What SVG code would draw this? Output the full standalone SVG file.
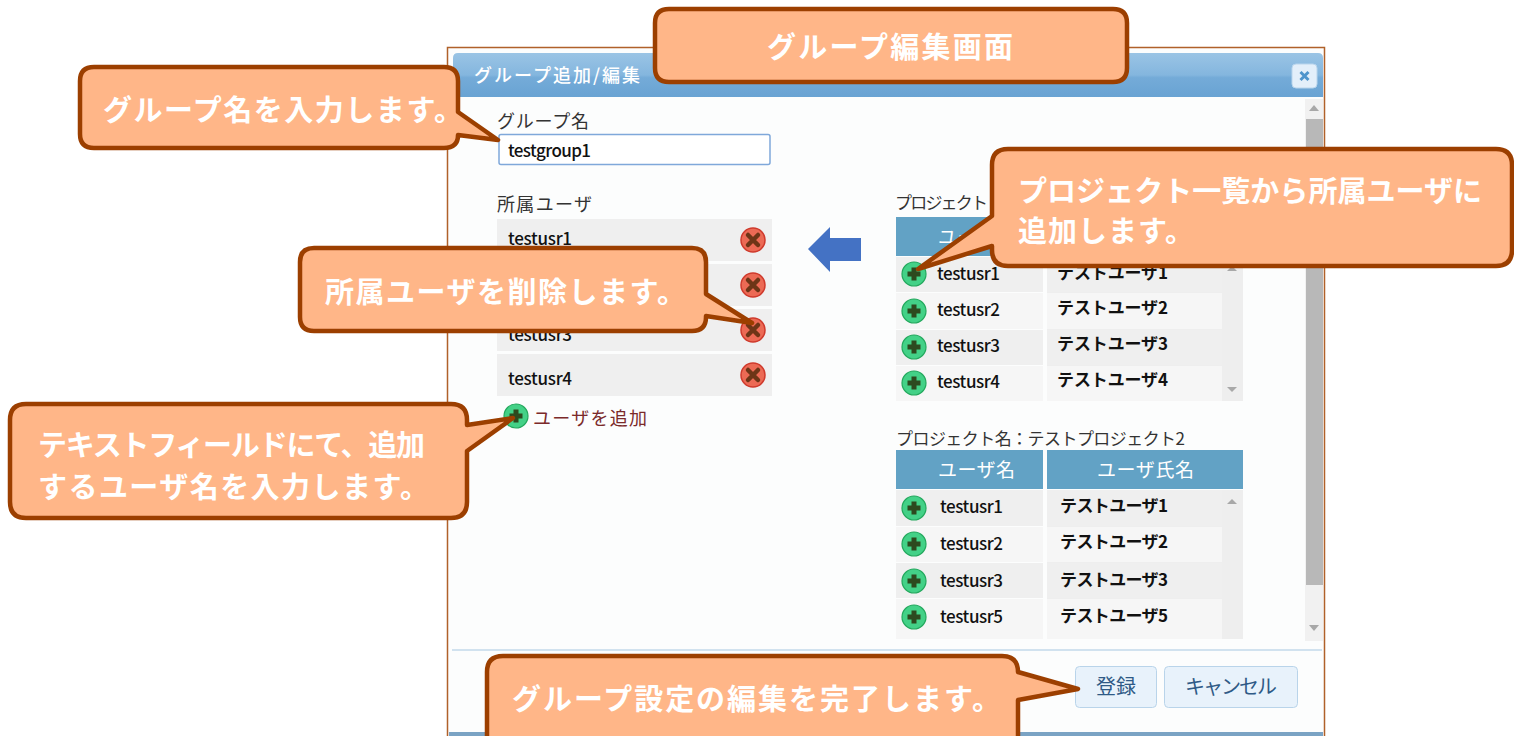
<svg xmlns="http://www.w3.org/2000/svg" xmlns:xlink="http://www.w3.org/1999/xlink" width="1514" height="736" viewBox="0 0 1514 736">
<style>
.ui{font-family:"Noto Sans CJK JP","Noto Sans",sans-serif;}
.lbl{font-size:18px;fill:#333;}
.cell{font-size:17px;fill:#111;font-weight:500;}
.cellb{font-size:17px;fill:#111;font-weight:700;}
.hdr{font-size:19px;fill:#fff;}
.btn{font-size:20px;fill:#2f5a86;}
.co{fill:#ffb688;stroke:#9c3f00;stroke-width:4.5;stroke-linejoin:round;}
.cot{font-family:"Noto Sans CJK JP","Noto Sans",sans-serif;font-size:29px;font-weight:700;fill:#fff;}
.row1{fill:#efefef;}
.row2{fill:#f6f6f6;}
.hd{fill:#62a2c5;}
.tri{fill:#a8a8a8;}
</style>
<defs>
<linearGradient id="tb" x1="0" y1="0" x2="0" y2="1">
<stop offset="0" stop-color="#9ac4e5"/>
<stop offset="0.5" stop-color="#84b6de"/>
<stop offset="0.56" stop-color="#74abd8"/>
<stop offset="1" stop-color="#69a3d3"/>
</linearGradient>
<g id="plus"><circle r="12" fill="#43d187" stroke="#23a85d" stroke-width="1.2"/><path d="M-6.5,0H6.5M0,-6.5V6.5" stroke="#2d4a1f" stroke-width="5"/></g>
<g id="del"><circle r="12" fill="#ec6a55" stroke="#cf3a2c" stroke-width="1.5"/><path d="M-5,-5L5,5M5,-5L-5,5" stroke="#6e3517" stroke-width="4.5" stroke-linecap="round"/></g>
</defs>
<rect width="1514" height="736" fill="#fff"/>

<g id="dialog">
<rect x="447.5" y="47.5" width="877" height="700" fill="#fcfdfd" stroke="#b0612a" stroke-width="1.5"/>
<path d="M458,53 H1318 Q1323,53 1323,58 V97 H453 V58 Q453,53 458,53 Z" fill="url(#tb)"/>
<text class="ui" x="474" y="82" font-size="18" font-weight="500" fill="#fff" textLength="166">グループ追加/編集</text>
<rect x="1292" y="64" width="25" height="24" rx="4" fill="#e3effa" stroke="#b9d5ec"/>
<path d="M1300.5,72L1308.5,80M1308.5,72L1300.5,80" stroke="#4f95cc" stroke-width="3"/>
<rect x="1305" y="99" width="18" height="542" fill="#f1f1f1"/>
<rect x="1306" y="119" width="17" height="466" fill="#b8b8b8"/>
<path class="tri" d="M1309,111 L1314,105 L1319,111 Z"/>
<path class="tri" d="M1309,625 L1314,631 L1319,625 Z"/>
<line x1="452" y1="650" x2="1322" y2="650" stroke="#c3d9ea" stroke-width="1.5"/>
<rect x="449" y="732" width="874" height="4" fill="#7aa3c4"/>
</g>

<g id="group-name">
<text class="ui lbl" x="497" y="128" textLength="92">グループ名</text>
<rect x="499" y="134.5" width="271" height="30" fill="#fff" stroke="#7fa8da" stroke-width="1.5" rx="2"/>
<text class="ui cell" x="508" y="157" textLength="83">testgroup1</text>
</g>

<g id="member-list">
<text class="ui lbl" x="497" y="211" textLength="95">所属ユーザ</text>
<rect class="row1" x="497" y="219" width="275" height="42"/>
<rect class="row1" x="497" y="264" width="275" height="42"/>
<rect class="row1" x="497" y="309" width="275" height="42"/>
<rect class="row1" x="497" y="354" width="275" height="42"/>
<text class="ui cell" x="508" y="245" textLength="64">testusr1</text>
<text class="ui cell" x="508" y="341" textLength="64">testusr3</text>
<text class="ui cell" x="508" y="385" textLength="64">testusr4</text>
<use xlink:href="#del" x="753" y="240"/>
<use xlink:href="#del" x="753" y="285"/>
<use xlink:href="#del" x="753" y="330"/>
<use xlink:href="#del" x="753" y="375"/>
<use xlink:href="#plus" x="516" y="416"/>
<text class="ui" x="533" y="425" font-size="18" fill="#7b2a2a" textLength="114">ユーザを追加</text>
</g>

<g id="project1">
<text class="ui" x="895" y="209" font-size="17" fill="#333" textLength="93">プロジェクト</text>
<rect class="hd" x="896" y="217" width="147" height="39"/>
<rect class="hd" x="1047" y="217" width="196" height="39"/>
<text class="ui hdr" x="938" y="244" textLength="77">ユーザ名</text>
<rect class="row1" x="896" y="257" width="147" height="35"/>
<rect class="row2" x="896" y="293" width="147" height="36"/>
<rect class="row1" x="896" y="330" width="147" height="35"/>
<rect class="row2" x="896" y="366" width="147" height="35"/>
<rect x="1047" y="257" width="196" height="144" fill="#eeeeee"/>
<rect class="row1" x="1047" y="257" width="175" height="35"/>
<rect class="row2" x="1047" y="293" width="175" height="36"/>
<rect class="row1" x="1047" y="330" width="175" height="35"/>
<rect class="row2" x="1047" y="366" width="175" height="35"/>
<path class="tri" d="M1227,271 L1232,266 L1237,271 Z"/>
<path class="tri" d="M1227,387 L1232,392 L1237,387 Z"/>
<use xlink:href="#plus" x="914" y="274"/>
<use xlink:href="#plus" x="914" y="311"/>
<use xlink:href="#plus" x="914" y="347"/>
<use xlink:href="#plus" x="914" y="383"/>
<text class="ui cell" x="937" y="280" textLength="63">testusr1</text>
<text class="ui cell" x="937" y="316" textLength="63">testusr2</text>
<text class="ui cell" x="937" y="352" textLength="63">testusr3</text>
<text class="ui cell" x="937" y="388" textLength="63">testusr4</text>
<text class="ui cellb" x="1057" y="279" textLength="111">テストユーザ1</text>
<text class="ui cellb" x="1057" y="314" textLength="111">テストユーザ2</text>
<text class="ui cellb" x="1057" y="350" textLength="111">テストユーザ3</text>
<text class="ui cellb" x="1057" y="386" textLength="111">テストユーザ4</text>
</g>

<g id="project2">
<text class="ui" x="896" y="445" font-size="17" fill="#333" textLength="289">プロジェクト名：テストプロジェクト2</text>
<rect class="hd" x="896" y="450" width="147" height="39"/>
<rect class="hd" x="1047" y="450" width="196" height="39"/>
<text class="ui hdr" x="938" y="477" textLength="77">ユーザ名</text>
<text class="ui hdr" x="1097" y="477" textLength="97">ユーザ氏名</text>
<rect class="row1" x="896" y="490" width="147" height="36"/>
<rect class="row2" x="896" y="527" width="147" height="35"/>
<rect class="row1" x="896" y="563" width="147" height="35"/>
<rect class="row2" x="896" y="599" width="147" height="40"/>
<rect x="1047" y="490" width="196" height="149" fill="#eeeeee"/>
<rect class="row1" x="1047" y="490" width="175" height="36"/>
<rect class="row2" x="1047" y="527" width="175" height="35"/>
<rect class="row1" x="1047" y="563" width="175" height="35"/>
<rect class="row2" x="1047" y="599" width="175" height="40"/>
<path class="tri" d="M1227,504 L1232,499 L1237,504 Z"/>
<use xlink:href="#plus" x="914" y="508"/>
<use xlink:href="#plus" x="914" y="544"/>
<use xlink:href="#plus" x="914" y="581"/>
<use xlink:href="#plus" x="914" y="617"/>
<text class="ui cell" x="940" y="513" textLength="63">testusr1</text>
<text class="ui cell" x="940" y="550" textLength="63">testusr2</text>
<text class="ui cell" x="940" y="587" textLength="63">testusr3</text>
<text class="ui cell" x="940" y="623" textLength="63">testusr5</text>
<text class="ui cellb" x="1060" y="512" textLength="108">テストユーザ1</text>
<text class="ui cellb" x="1060" y="548" textLength="108">テストユーザ2</text>
<text class="ui cellb" x="1060" y="586" textLength="108">テストユーザ3</text>
<text class="ui cellb" x="1060" y="622" textLength="108">テストユーザ5</text>
</g>

<g id="buttons">
<rect x="1075.5" y="666.5" width="81" height="41" rx="4" fill="#e8f2fb" stroke="#b9d4ea"/>
<text class="ui btn" x="1096" y="694">登録</text>
<rect x="1164.5" y="666.5" width="133" height="41" rx="4" fill="#e8f2fb" stroke="#b9d4ea"/>
<text class="ui btn" x="1185" y="694" font-size="19" textLength="92">キャンセル</text>
</g>

<g id="connectors">
<path d="M808,249 L830,227 L830,238 L861,238 L861,261 L830,261 L830,272 Z" fill="#4472c4"/>
</g>

<g id="callout-title">
<path class="co" d="M669,9 H1113 Q1127,9 1127,23 V68 Q1127,82 1113,82 H669 Q655,82 655,68 V23 Q655,9 669,9 Z"/>
<text class="cot" x="767" y="58" font-size="30" textLength="246">グループ編集画面</text>
</g>

<g id="callout-groupname">
<path class="co" d="M94,67 H444 Q458,67 458,81 V112 L498,140 L458,135 Q458,148 444,148 H94 Q80,148 80,134 V81 Q80,67 94,67 Z"/>
<text class="cot" x="103" y="121" textLength="360">グループ名を入力します。</text>
</g>

<g id="callout-delete">
<path class="co" d="M314,248 H692 Q706,248 706,262 V294 L752,323 L706,316 V317 Q706,331 692,331 H314 Q300,331 300,317 V262 Q300,248 314,248 Z"/>
<text class="cot" x="325" y="303" textLength="361">所属ユーザを削除します。</text>
</g>

<g id="callout-add-user">
<path class="co" d="M26,404 H451 Q467,404 467,420 V425 L513,418 L467,451 V502 Q467,518 451,518 H26 Q10,518 10,502 V420 Q10,404 26,404 Z"/>
<text class="cot" x="38" y="456" font-size="28" textLength="387">テキストフィールドにて、追加</text>
<text class="cot" x="38" y="498" font-size="28" textLength="391">するユーザ名を入力します。</text>
</g>

<g id="callout-project">
<path class="co" d="M1008,149 H1496 Q1512,149 1512,165 V250 Q1512,266 1496,266 H1008 Q992,266 992,250 V246 L918,269 L992,216 V165 Q992,149 1008,149 Z"/>
<text class="cot" x="1018" y="202" textLength="464">プロジェクト一覧から所属ユーザに</text>
<text class="cot" x="1018" y="242" textLength="176">追加します。</text>
</g>

<g id="callout-finish">
<path class="co" d="M503,656 H1002 Q1018,656 1018,672 L1078,689 L1018,700 V760 H487 V672 Q487,656 503,656 Z"/>
<text class="cot" x="512" y="710" textLength="489">グループ設定の編集を完了します。</text>
</g>
</svg>
